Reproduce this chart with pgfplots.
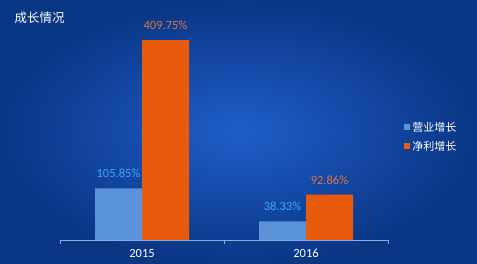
\documentclass[border=0pt]{standalone}
\usepackage{pgfplots}
\pgfplotsset{compat=1.18}
\usepackage{fontspec}
\setmainfont{Carlito}
\newfontfamily\cjk{Noto Sans CJK SC}
\definecolor{bgdark}{HTML}{0A3686}
\definecolor{bglight}{HTML}{1E5EC8}
\definecolor{barblue}{HTML}{5B93DB}
\definecolor{barorange}{HTML}{E85A0C}
\definecolor{lblblue}{HTML}{3AA8F2}
\definecolor{lblorange}{HTML}{E2743E}
\definecolor{axisline}{HTML}{8FAADA}
\begin{document}
\begin{tikzpicture}
\shade[inner color=bglight, outer color=bgdark] (0,0) rectangle (477pt,264pt);
\node[anchor=west, text=white, font=\cjk\fontsize{12.5pt}{14pt}\selectfont] at (11pt,246pt) {成长情况};
\begin{axis}[
  at={(60pt,24pt)}, anchor=south west,
  scale only axis, width=328pt, height=219.6pt,
  ybar=0pt, bar width=47pt,
  xmin=-0.5, xmax=1.5, ymin=0, ymax=450,
  axis x line=bottom, axis y line=none,
  x axis line style={-, draw=axisline, line width=0.6pt},
  xtick={0,1}, xticklabels={2015,2016},
  major tick length=0pt,
  minor xtick={-0.5,0.5,1.5}, minor tick length=4pt,
  tick align=outside,
  minor tick style={draw=axisline, line width=0.6pt},
  xticklabel style={text=white, font=\fontsize{12.5pt}{13pt}\selectfont, yshift=-6pt},
  nodes near coords,
  nodes near coords style={font=\fontsize{12.5pt}{13pt}\selectfont, yshift=7pt},
  point meta=explicit symbolic,
  legend style={at={(1.04,0.47)}, anchor=west, draw=none, fill=none, text=white, font=\cjk\fontsize{11pt}{12pt}\selectfont, row sep=4pt},
  legend image code/.code={\fill[#1] (0pt,-3pt) rectangle (6pt,3pt);},
]
\addplot[fill=barblue, draw=none, every node near coord/.append style={text=lblblue}] coordinates {(0,105.85) [105.85\%] (1,38.33) [38.33\%]};
\addplot[fill=barorange, draw=none, every node near coord/.append style={text=lblorange}] coordinates {(0,409.75) [409.75\%] (1,92.86) [92.86\%]};
\legend{营业增长,净利增长}
\end{axis}
\end{tikzpicture}
\end{document}
